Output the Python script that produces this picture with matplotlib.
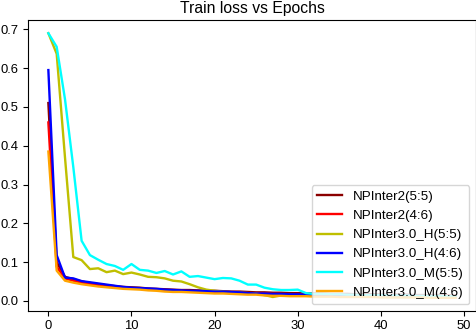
import matplotlib
matplotlib.use("Agg")
import matplotlib.pyplot as plt

plt.rcParams["font.family"] = ["Liberation Sans", "DejaVu Sans"]

epochs = list(range(50))

npinter2_55 = [0.51, 0.10, 0.062, 0.056, 0.050, 0.046, 0.043, 0.040, 0.038, 0.036,
               0.035, 0.034, 0.032, 0.031, 0.030, 0.029, 0.028, 0.028, 0.027, 0.026,
               0.026, 0.025, 0.024, 0.024, 0.023, 0.022, 0.022, 0.021, 0.021, 0.020,
               0.020, 0.019, 0.019, 0.019, 0.018, 0.018, 0.018, 0.017, 0.017, 0.017,
               0.016, 0.016, 0.016, 0.016, 0.015, 0.015, 0.015, 0.015, 0.014, 0.014]
npinter2_46 = [0.46, 0.088, 0.058, 0.052, 0.047, 0.044, 0.041, 0.038, 0.036, 0.034,
               0.033, 0.031, 0.030, 0.029, 0.028, 0.027, 0.026, 0.025, 0.024, 0.023,
               0.022, 0.021, 0.021, 0.020, 0.020, 0.019, 0.019, 0.018, 0.018, 0.017,
               0.017, 0.017, 0.016, 0.016, 0.016, 0.015, 0.015, 0.015, 0.015, 0.014,
               0.014, 0.014, 0.014, 0.013, 0.013, 0.013, 0.013, 0.013, 0.012, 0.012]
npinter3_h_55 = [0.69, 0.637, 0.37, 0.113, 0.105, 0.082, 0.084, 0.074, 0.078, 0.069,
                 0.073, 0.068, 0.062, 0.061, 0.058, 0.052, 0.050, 0.043, 0.035, 0.029,
                 0.026, 0.024, 0.022, 0.021, 0.020, 0.019, 0.015, 0.010, 0.014, 0.016,
                 0.014, 0.013, 0.013, 0.012, 0.012, 0.012, 0.011, 0.011, 0.011, 0.011,
                 0.010, 0.010, 0.010, 0.010, 0.010, 0.009, 0.009, 0.009, 0.009, 0.009]
npinter3_h_46 = [0.595, 0.118, 0.060, 0.058, 0.051, 0.048, 0.045, 0.042, 0.039, 0.036,
                 0.034, 0.033, 0.032, 0.031, 0.029, 0.028, 0.027, 0.026, 0.026, 0.025,
                 0.024, 0.024, 0.023, 0.022, 0.020, 0.019, 0.019, 0.018, 0.018, 0.017,
                 0.017, 0.016, 0.016, 0.016, 0.015, 0.015, 0.015, 0.014, 0.014, 0.014,
                 0.014, 0.013, 0.013, 0.013, 0.013, 0.012, 0.012, 0.012, 0.012, 0.012]
npinter3_m_55 = [0.69, 0.655, 0.52, 0.345, 0.155, 0.118, 0.106, 0.095, 0.090, 0.080,
                 0.095, 0.080, 0.078, 0.072, 0.077, 0.068, 0.076, 0.062, 0.064, 0.060,
                 0.056, 0.059, 0.058, 0.052, 0.042, 0.042, 0.034, 0.030, 0.028, 0.028,
                 0.029, 0.020, 0.018, 0.018, 0.017, 0.017, 0.016, 0.016, 0.015, 0.015,
                 0.015, 0.014, 0.014, 0.014, 0.013, 0.013, 0.013, 0.013, 0.012, 0.012]
npinter3_m_46 = [0.385, 0.078, 0.052, 0.047, 0.043, 0.040, 0.037, 0.035, 0.033, 0.031,
                 0.030, 0.029, 0.027, 0.026, 0.024, 0.023, 0.023, 0.022, 0.021, 0.020,
                 0.019, 0.019, 0.018, 0.017, 0.016, 0.016, 0.014, 0.013, 0.013, 0.012,
                 0.012, 0.012, 0.011, 0.011, 0.011, 0.010, 0.010, 0.010, 0.010, 0.010,
                 0.009, 0.009, 0.009, 0.009, 0.009, 0.009, 0.008, 0.008, 0.008, 0.008]

series = [
    ("NPInter2(5:5)", npinter2_55, "darkred"),
    ("NPInter2(4:6)", npinter2_46, "red"),
    ("NPInter3.0_H(5:5)", npinter3_h_55, "y"),
    ("NPInter3.0_H(4:6)", npinter3_h_46, "blue"),
    ("NPInter3.0_M(5:5)", npinter3_m_55, "cyan"),
    ("NPInter3.0_M(4:6)", npinter3_m_46, "orange"),
]

fig = plt.figure(figsize=(4.77, 3.30), dpi=100)
ax = fig.add_axes([28 / 477, 19 / 330, 448 / 477, 291 / 330])

for label, values, color in series:
    ax.plot(epochs, values, color=color, linewidth=1.7, label=label)

ax.set_xticks([0, 10, 20, 30, 40, 50])
ax.set_yticks([0.0, 0.1, 0.2, 0.3, 0.4, 0.5, 0.6, 0.7])
ax.tick_params(labelsize=9.4, length=3.3)
ax.set_title("Train loss vs Epochs", fontsize=11.3, pad=5)
ax.legend(loc="lower right", fontsize=9.6, handlelength=1.9, labelspacing=0.52)

fig.savefig("out.png", dpi=100)
